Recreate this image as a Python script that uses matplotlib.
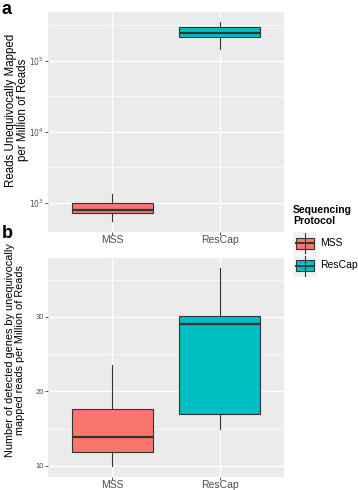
import matplotlib
matplotlib.use('Agg')
import matplotlib.pyplot as plt
import matplotlib.patches as patches
from matplotlib.ticker import FixedLocator, NullFormatter

plt.rcParams['font.family'] = ['Liberation Sans', 'DejaVu Sans']

groups = ['MSS', 'ResCap']
colors = ['#F8766D', '#00BFC4']

# panel a: reads unequivocally mapped per million (log scale)
reads_whislo = [560, 148000]
reads_q1 = [715, 218000]
reads_med = [800, 247000]
reads_q3 = [990, 302000]
reads_whishi = [1340, 355000]

# panel b: number of detected genes
genes_whislo = [10.0, 14.95]
genes_q1 = [11.9, 17.0]
genes_med = [13.9, 29.1]
genes_q3 = [17.6, 30.1]
genes_whishi = [23.6, 36.6]

W, H = 358, 490
fig = plt.figure(figsize=(W / 100, H / 100), dpi=100)


def px(l, t, r, b):
    return [l / W, 1 - b / H, (r - l) / W, (b - t) / H]


def style(ax):
    ax.set_facecolor('#EBEBEB')
    for s in ax.spines.values():
        s.set_visible(False)
    ax.set_axisbelow(True)
    ax.grid(True, which='major', color='white', linewidth=1.0)
    ax.grid(True, which='minor', axis='y', color='white', linewidth=0.5)
    ax.tick_params(which='major', length=2, width=0.6, color='#333333',
                   labelcolor='#4D4D4D', labelsize=5.5, pad=1.2)
    ax.tick_params(axis='x', labelsize=7.5, labelcolor='#4D4D4D', pad=0.5)
    ax.tick_params(which='minor', length=0)


def boxes(ax, lo, q1, med, q3, hi):
    stats = []
    for i in range(len(groups)):
        stats.append(dict(whislo=lo[i], q1=q1[i], med=med[i], q3=q3[i],
                          whishi=hi[i], fliers=[], label=groups[i]))
    bp = ax.bxp(stats, positions=[1, 2], widths=0.75, patch_artist=True,
                showcaps=False,
                boxprops=dict(edgecolor='#333333', linewidth=0.8),
                medianprops=dict(color='#333333', linewidth=1.6),
                whiskerprops=dict(color='#333333', linewidth=0.8))
    for p, c in zip(bp['boxes'], colors):
        p.set_facecolor(c)
    ax.set_xlim(0.4, 2.6)


# panel a
ax1 = fig.add_axes(px(48, 12, 284, 232))
style(ax1)
ax1.set_yscale('log')
boxes(ax1, reads_whislo, reads_q1, reads_med, reads_q3, reads_whishi)
ax1.set_ylim(10 ** 2.59, 10 ** 5.69)
ax1.yaxis.set_major_locator(FixedLocator([1e3, 1e4, 1e5]))
ax1.set_yticklabels(['$10^{3}$', '$10^{4}$', '$10^{5}$'])
ax1.yaxis.set_minor_locator(FixedLocator([10 ** 3.5, 10 ** 4.5, 10 ** 5.5]))
ax1.yaxis.set_minor_formatter(NullFormatter())
ax1.set_ylabel('Reads Unequivocally Mapped\nper Million of Reads',
               fontsize=8.3, color='black', linespacing=1.0, va='center')
ax1.yaxis.set_label_coords((17 - 48) / 236, (232 - 110) / 220)
fig.text(2 / W, 1 - 1 / H, 'a', fontsize=13, fontweight='bold', va='top')

# panel b
ax2 = fig.add_axes(px(48, 257.5, 284, 476.7))
style(ax2)
boxes(ax2, genes_whislo, genes_q1, genes_med, genes_q3, genes_whishi)
ax2.set_ylim(8.52, 38.0)
ax2.yaxis.set_major_locator(FixedLocator([10, 20, 30]))
ax2.set_yticklabels(['10', '20', '30'])
ax2.yaxis.set_minor_locator(FixedLocator([15, 25, 35]))
ax2.yaxis.set_minor_formatter(NullFormatter())
ax2.set_ylabel('Number of detected genes by unequivocally\nmapped reads per Million of Reads',
               fontsize=7.8, color='black', linespacing=1.0, va='center')
ax2.yaxis.set_label_coords((15 - 48) / 236, (476.7 - 350) / 219.2)
fig.text(2 / W, 1 - 225 / H, 'b', fontsize=13, fontweight='bold', va='top')

# legend
fig.text(293 / W, 1 - 205 / H, 'Sequencing\nProtocol', fontsize=7.5,
         fontweight='bold', va='top', linespacing=1.1)
lg = fig.add_axes(px(293, 232, 317, 277))
lg.set_xlim(0, 1)
lg.set_ylim(0, 2)
lg.axis('off')
for i, (g, c) in enumerate(zip(groups, colors)):
    y0 = 1 - i
    lg.add_patch(patches.Rectangle((0, y0 + 0.02), 1, 0.96, facecolor='#F2F2F2',
                                   edgecolor='none'))
    lg.plot([0.5, 0.5], [y0 + 0.05, y0 + 0.95], color='#333333', lw=0.8)
    lg.add_patch(patches.Rectangle((0.12, y0 + 0.25), 0.76, 0.5, facecolor=c,
                                   edgecolor='#333333', lw=0.8))
    lg.plot([0.12, 0.88], [y0 + 0.5, y0 + 0.5], color='#333333', lw=1.4)
    fig.text(320 / W, 1 - (243 + 22 * i) / H, g, fontsize=7.5, va='center')

fig.savefig('out.png', dpi=100)
